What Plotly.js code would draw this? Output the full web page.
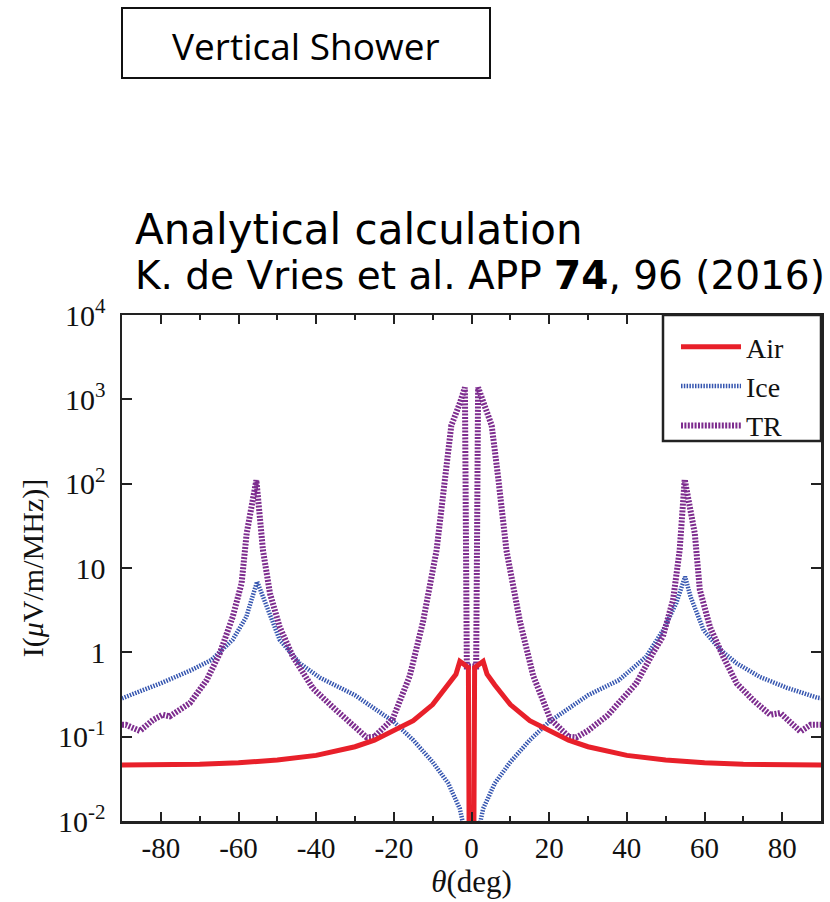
<!DOCTYPE html>
<html>
<head>
<meta charset="utf-8">
<script src="https://cdn.plot.ly/plotly-3.0.1.min.js"></script>
<style>html,body{margin:0;padding:0;background:#fff;}#chart{width:830px;height:902px;}</style>
</head>
<body>
<div id="chart"></div>
<script>
// ---- data (theta in degrees, intensity in uV/m/MHz) ----
const thetaAir = [-90,-80,-70,-60,-50,-40,-30,-25,-20,-15,-10,-6,-4,-3,-0.8,-0.6,0,0.6,0.8,3,4,6,10,15,20,25,30,40,50,60,70,80,90];
const airI = [0.046,0.046,0.047,0.049,0.053,0.060,0.076,0.091,0.118,0.155,0.24,0.41,0.55,0.78,0.66,0.005,0.00001,0.005,0.66,0.78,0.55,0.41,0.24,0.155,0.118,0.091,0.076,0.060,0.053,0.049,0.047,0.046,0.046];

const thetaIce = [-90,-80,-72,-67,-61.5,-58,-55.2,-52.8,-49.4,-44.2,-39,-30,-20,-15,-10,-6,-3,-2,0,2,3,6,10,15,20,30,38,45,49.3,52.7,55,56.4,59.8,64.1,68.3,74.3,81.2,89,90];
const iceI = [0.285,0.43,0.62,0.81,1.41,2.63,6.9,3.47,1.41,0.74,0.50,0.31,0.15,0.091,0.05,0.028,0.014,0.0085,0.0001,0.0085,0.014,0.028,0.05,0.091,0.15,0.31,0.47,0.89,1.82,3.8,7.9,4.57,1.82,1.07,0.74,0.51,0.38,0.29,0.285];

const thetaTR = [-90,-89,-85.4,-82,-79.5,-77.7,-72.5,-68.2,-64.8,-61.5,-59.2,-57.9,-55.4,-53.7,-51.9,-49.4,-46,-40.8,-35,-30,-27,-25,-20.3,-15.9,-12.5,-9,-6.9,-5.2,-3.0,-1.7,-1.2,1.2,1.7,3.0,5.2,6.9,9,12.5,15.9,20.3,25,27,30,35,38.1,42.4,46.7,49.3,51.9,53.6,54.9,57.5,58.8,61.4,64.8,68.3,72.6,76.9,79.5,82.1,84.7,87.3,89,90];
const trI = [0.138,0.138,0.117,0.158,0.182,0.174,0.251,0.468,0.977,2.63,6.61,25.7,110,16.2,5.01,2.0,0.891,0.372,0.209,0.126,0.098,0.1,0.162,0.525,2.29,16.2,115,490,900,1380,0.68,0.68,1380,900,490,115,16.2,2.29,0.525,0.162,0.1,0.098,0.118,0.178,0.251,0.427,0.977,1.55,4.17,16.2,112,25.7,5.5,2.0,0.891,0.427,0.269,0.182,0.191,0.151,0.115,0.138,0.138,0.138];

const xTickVals = [-80,-60,-40,-20,0,20,40,60,80];
const xTickText = ['-80','-60','-40','-20','0','20','40','60','80'];
const yTickVals = [0.01,0.1,1,10,100,1000,10000];
const yTickText = ['10<sup>-2</sup>','10<sup>-1</sup>','1','10','10<sup>2</sup>','10<sup>3</sup>','10<sup>4</sup>'];

const serif = '"Liberation Serif", "Times New Roman", serif';

const traces = [
  {x: thetaIce, y: iceI, name: 'Ice', legendrank: 2, mode: 'lines', line: {color: '#3656b0', width: 4.5, dash: '1.5px,1.3px'}},
  {x: thetaTR, y: trI, name: 'TR', legendrank: 3, mode: 'lines', line: {color: '#7d2c8e', width: 6, dash: '2px,1.4px'}},
  {x: thetaAir, y: airI, name: 'Air', legendrank: 1, mode: 'lines', line: {color: '#e8202a', width: 5}}
];

const W = 699, H = 506, L = 122, T = 315;
function px(xp){return (xp - L)/W;}
function py(yp){return (T + H - yp)/H;}

const layout = {
  width: 830, height: 902,
  margin: {l: 122, r: 9, t: 315, b: 81},
  paper_bgcolor: '#fff', plot_bgcolor: '#fff',
  showlegend: true,
  legend: {x: px(676), xanchor: 'left', y: py(322), yanchor: 'top', bgcolor: 'rgba(0,0,0,0)', borderwidth: 0,
           font: {family: serif, size: 28, color: '#111'}, itemwidth: 60, tracegroupgap: 0, traceorder: 'normal'},
  xaxis: {
    range: [-90, 90], tickmode: 'array', tickvals: xTickVals, ticktext: xTickText, ticks: 'inside', ticklen: 9, tickwidth: 2, tickcolor: '#222',
    showline: true, linecolor: '#222', linewidth: 2.5, mirror: 'ticks', showgrid: false, zeroline: false,
    minor: {dtick: 10, ticks: 'inside', ticklen: 5, tickwidth: 2, tickcolor: '#222', showgrid: false},
    tickfont: {family: serif, size: 29, color: '#111'},
    title: {text: '<i>θ</i>(deg)', font: {family: serif, size: 31, color: '#111'}, standoff: 7},
    automargin: false
  },
  yaxis: {
    type: 'log', range: [-2, 4], tickmode: 'array', tickvals: yTickVals, ticktext: yTickText,
    ticks: 'inside', ticklen: 10, tickwidth: 2, tickcolor: '#222',
    showline: true, linecolor: '#222', linewidth: 2.5, mirror: 'ticks', showgrid: false, zeroline: false,
    tickfont: {family: serif, size: 30, color: '#111'}, ticklabelstandoff: 8,
    title: {text: 'I(<i>μ</i>V/m/MHz)]', font: {family: serif, size: 30, color: '#111'}, standoff: 6},
    automargin: false
  },
  shapes: [
    {type: 'rect', xref: 'paper', yref: 'paper', x0: px(122), x1: px(490), y0: py(78), y1: py(8),
     line: {color: '#111', width: 2}, fillcolor: 'rgba(0,0,0,0)'},
    {type: 'rect', xref: 'paper', yref: 'paper', layer: 'above', x0: px(663), x1: 1, y0: py(441), y1: 1,
     line: {color: '#222', width: 2.5}, fillcolor: '#fff'}
  ],
  annotations: [
    {xref: 'paper', yref: 'paper', x: px(306), y: py(45), xanchor: 'center', yanchor: 'middle', showarrow: false,
     text: 'Vertical Shower', font: {family: '"Open Sans", "Noto Sans", sans-serif', size: 37, color: '#000'}},
    {xref: 'paper', yref: 'paper', x: px(133), y: py(229), xanchor: 'left', yanchor: 'middle', showarrow: false,
     text: 'Analytical calculation', font: {family: '"DejaVu Sans", sans-serif', size: 42, color: '#000'}},
    {xref: 'paper', yref: 'paper', x: px(133), y: py(275), xanchor: 'left', yanchor: 'middle', showarrow: false,
     text: 'K. de Vries et al. APP <b>74</b>, 96 (2016)', font: {family: '"DejaVu Sans", sans-serif', size: 39, color: '#000'}}
  ]
};

Plotly.newPlot('chart', traces, layout, {displayModeBar: false, staticPlot: true});
</script>
</body>
</html>
